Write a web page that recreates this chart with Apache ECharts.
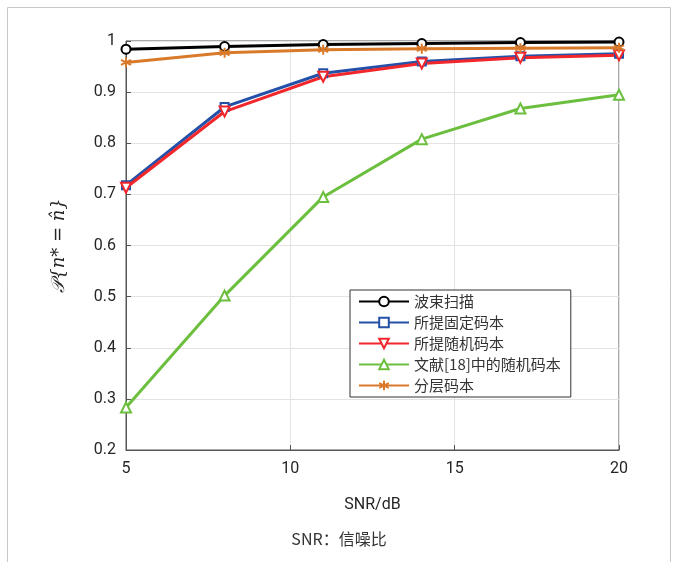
<!DOCTYPE html>
<html>
<head>
<meta charset="utf-8">
<script src="https://cdn.jsdelivr.net/npm/echarts@6/dist/echarts.min.js"></script>
<style>
  html, body { margin: 0; padding: 0; background: #fff; }
  #chart { width: 678px; height: 562px; }
</style>
</head>
<body>
<div id="chart"></div>
<script>
// SNR 取值 (dB)
const snr = [5, 8, 11, 14, 17, 20];
const seriesNames = ['波束扫描', '所提固定码本', '所提随机码本', '文献[18]中的随机码本', '分层码本'];
const beamSweep = [0.984, 0.989, 0.993, 0.995, 0.997, 0.998];
const fixedCodebook = [0.718, 0.871, 0.937, 0.960, 0.970, 0.975];
const randomCodebook = [0.713, 0.862, 0.930, 0.956, 0.967, 0.972];
const refRandomCodebook = [0.283, 0.502, 0.695, 0.808, 0.868, 0.895];
const hierCodebook = [0.958, 0.977, 0.983, 0.985, 0.986, 0.987];

const asterisk = 'path://M0,-10L0,10M-9,-5L9,5M-9,5L9,-5';

function pairs(vals) {
  return snr.map((x, i) => [x, vals[i]]);
}

function mkSeries(name, vals, color, symbol, rotate, size) {
  return {
    name: name,
    type: 'line',
    data: pairs(vals),
    symbol: symbol,
    symbolSize: size,
    symbolRotate: rotate,
    showAllSymbol: true,
    lineStyle: { color: color, width: 3 },
    itemStyle: { color: '#fff', borderColor: color, borderWidth: 2 },
    emphasis: { disabled: true },
    z: 3
  };
}

const chart = echarts.init(document.getElementById('chart'));
chart.setOption({
  animation: false,
  backgroundColor: '#fff',
  grid: { left: 126, right: 59, top: 41, bottom: 112, show: true, borderColor: '#555', borderWidth: 1 },
  legend: {
    left: 350, top: 290,
    orient: 'vertical',
    data: seriesNames,
    itemWidth: 50, itemHeight: 12, itemGap: 6,
    padding: [4, 10, 4, 8],
    backgroundColor: '#fff',
    borderColor: '#333', borderWidth: 1,
    textStyle: { fontSize: 15, color: '#333', fontFamily: 'Noto Sans CJK SC' }
  },
  xAxis: {
    type: 'value', min: 5, max: 20, interval: 5,
    name: 'SNR/dB', nameLocation: 'middle', nameGap: 47,
    nameTextStyle: { fontSize: 16, color: '#262626', fontFamily: 'Roboto' },
    axisLine: { lineStyle: { color: '#555', width: 1 } },
    axisTick: { inside: true, length: 5, lineStyle: { color: '#555' } },
    axisLabel: { fontSize: 16, color: '#262626', margin: 11, fontFamily: 'Roboto' },
    splitLine: { show: true, lineStyle: { color: '#e3e3e3' } }
  },
  yAxis: {
    type: 'value', min: 0.2, max: 1, interval: 0.1,
    name: '𝒫{n* = n̂}', nameLocation: 'middle', nameGap: 58, nameRotate: 90,
    nameTextStyle: { fontSize: 18, color: '#262626', fontFamily: 'DejaVu Serif', fontStyle: 'italic' },
    axisLine: { show: true, lineStyle: { color: '#555', width: 1 } },
    axisTick: { inside: true, length: 5, lineStyle: { color: '#555' } },
    axisLabel: {
      fontSize: 16, color: '#262626', margin: 10, fontFamily: 'Roboto',
      formatter: v => (Math.abs(v - 1) < 1e-9 ? '1' : v.toFixed(1))
    },
    splitLine: { show: true, lineStyle: { color: '#e3e3e3' } }
  },
  graphic: [
    { type: 'rect', shape: { x: 7.5, y: 7.5, width: 663, height: 580 }, style: { fill: 'none', stroke: '#c8c8c8', lineWidth: 1 }, silent: true },
    { type: 'text', left: 'center', top: 531, style: { text: 'SNR：信噪比', fontSize: 16, fill: '#333', fontFamily: 'Noto Sans CJK SC' } }
  ],
  series: [
    mkSeries(seriesNames[0], beamSweep, '#000000', 'circle', 0, 9),
    mkSeries(seriesNames[1], fixedCodebook, '#2450a8', 'rect', 0, 8),
    mkSeries(seriesNames[2], randomCodebook, '#f2272b', 'triangle', 180, 10),
    mkSeries(seriesNames[3], refRandomCodebook, '#6cbf3e', 'triangle', 0, 10),
    mkSeries(seriesNames[4], hierCodebook, '#d97a2b', asterisk, 0, 10)
  ]
});
</script>
</body>
</html>
